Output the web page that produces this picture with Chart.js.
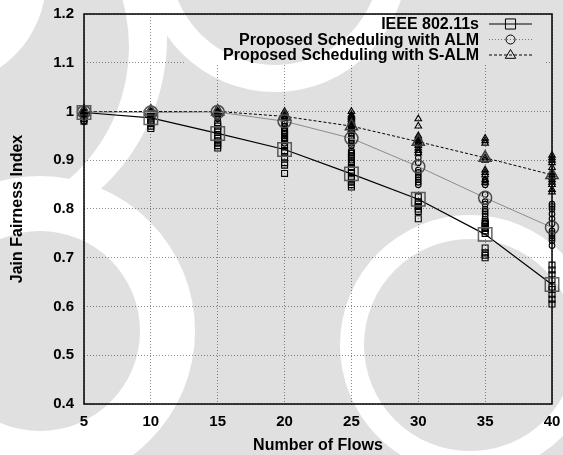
<!DOCTYPE html>
<html><head><meta charset="utf-8">
<script src="https://cdn.jsdelivr.net/npm/chart.js@4/dist/chart.umd.min.js"></script>
<style>html,body{margin:0;padding:0;background:#fff;}canvas{display:block}</style>
</head><body>
<canvas id="c" width="563" height="455"></canvas>
<script>
// ---------- data ----------
const flows = [5, 10, 15, 20, 25, 30, 35, 40];
const yTicks = [0.4, 0.5, 0.6, 0.7, 0.8, 0.9, 1.0, 1.1, 1.2];
const seriesLabels = ['IEEE 802.11s', 'Proposed Scheduling with ALM', 'Proposed Scheduling with S-ALM'];
const xTitle = 'Number of Flows';
const yTitle = 'Jain Fairness Index';

const ieeeMean = [0.998, 0.987, 0.955, 0.922, 0.872, 0.820, 0.748, 0.645];
const almMean  = [0.999, 0.998, 0.999, 0.980, 0.945, 0.887, 0.823, 0.762];
const salmMean = [1.000, 1.000, 1.000, 0.990, 0.970, 0.938, 0.905, 0.870];

const ieeeSamples = [
  [0.998, 0.995, 0.99, 0.985, 0.98],
  [0.99, 0.985, 0.98, 0.975, 0.97, 0.965],
  [0.975, 0.97, 0.965, 0.96, 0.95, 0.945, 0.94, 0.935, 0.93, 0.925],
  [0.96, 0.955, 0.945, 0.94, 0.93, 0.92, 0.915, 0.905, 0.895, 0.89, 0.873],
  [0.915, 0.905, 0.895, 0.885, 0.88, 0.875, 0.865, 0.86, 0.855, 0.85, 0.845],
  [0.825, 0.815, 0.81, 0.805, 0.8, 0.795, 0.78],
  [0.775, 0.77, 0.765, 0.76, 0.755, 0.75, 0.72, 0.71, 0.705, 0.7],
  [0.685, 0.675, 0.665, 0.655, 0.64, 0.635, 0.625, 0.615, 0.605]
];
const almSamples = [
  [1.0, 0.997, 0.993, 0.99, 0.985, 0.98],
  [1.0, 0.999, 0.997, 0.995, 0.992, 0.99],
  [1.0, 0.999, 0.997, 0.995, 0.992, 0.99, 0.985],
  [0.995, 0.992, 0.99, 0.985, 0.98, 0.975, 0.97, 0.965, 0.96, 0.955, 0.95, 0.945, 0.94, 0.935],
  [0.96, 0.955, 0.95, 0.945, 0.94, 0.935, 0.93, 0.92, 0.915, 0.91, 0.9, 0.895],
  [0.915, 0.905, 0.895, 0.88, 0.875, 0.87, 0.865, 0.86, 0.855, 0.85],
  [0.86, 0.855, 0.85, 0.83, 0.815, 0.81, 0.8, 0.795, 0.79, 0.785, 0.775, 0.77, 0.765, 0.76],
  [0.81, 0.805, 0.8, 0.79, 0.78, 0.77, 0.755, 0.75, 0.745, 0.74, 0.735, 0.725]
];
const salmSamples = [
  [1.0, 0.999, 0.997],
  [1.0, 0.999, 0.998],
  [1.0, 0.999, 0.998, 0.996],
  [1.0, 0.998, 0.996, 0.993, 0.99, 0.987, 0.985],
  [1.0, 0.993, 0.99, 0.987, 0.984, 0.98, 0.977, 0.973, 0.97, 0.967, 0.963, 0.96],
  [0.985, 0.97, 0.95, 0.947, 0.944, 0.94, 0.937, 0.934, 0.93, 0.925, 0.92, 0.915],
  [0.945, 0.94, 0.935, 0.905, 0.9, 0.88, 0.875, 0.87, 0.86, 0.855],
  [0.91, 0.905, 0.9, 0.895, 0.885, 0.875, 0.87, 0.865, 0.86, 0.855, 0.85, 0.84, 0.835]
];

// ---------- styles ----------
const FONT = '"Liberation Sans", Arial, Helvetica, sans-serif';
const styles = [
  {shape: 'rect',     line: '#000', width: 1.2, dash: [],     big: '#666', bigR: 9.5, smallR: 4.2, legR: 7},
  {shape: 'circle',   line: '#a0a0a0', width: 1.0, dash: [],  big: '#555', bigR: 6.5, smallR: 2.8, legR: 4.5, legDash: [1, 2]},
  {shape: 'triangle', line: '#000', width: 1.0, dash: [3, 2], big: '#444', bigR: 7,   smallR: 3.8, legR: 5.5}
];
const means = [ieeeMean, almMean, salmMean];
const samples = [ieeeSamples, almSamples, salmSamples];

const datasets = [];
means.forEach((m, s) => {
  const st = styles[s];
  datasets.push({
    label: seriesLabels[s],
    data: flows.map((f, i) => ({x: f, y: m[i]})),
    showLine: true, tension: 0,
    borderColor: st.line, borderWidth: st.width, borderDash: st.dash,
    pointStyle: st.shape, pointRadius: st.bigR, pointHoverRadius: st.bigR,
    pointBorderColor: st.big, pointBackgroundColor: 'rgba(0,0,0,0)', pointBorderWidth: 1.5,
    clip: false, order: 1
  });
});
samples.forEach((arr, s) => {
  const st = styles[s];
  datasets.push({
    label: seriesLabels[s] + ' samples',
    data: arr.flatMap((vals, i) => vals.map(v => ({x: flows[i], y: v}))),
    showLine: false,
    pointStyle: st.shape, pointRadius: st.smallR, pointHoverRadius: st.smallR,
    pointBorderColor: '#000', pointBackgroundColor: 'rgba(0,0,0,0)', pointBorderWidth: 1.1,
    clip: false, order: 2
  });
});

// ---------- plugins ----------
function shape(ctx, kind, x, y, r) {
  ctx.beginPath();
  if (kind === 'rect') { const h = r / 2; ctx.rect(x - h, y - h, 2 * h, 2 * h); }
  else if (kind === 'circle') { ctx.arc(x, y, r, 0, Math.PI * 2); }
  else { ctx.moveTo(x, y - r); ctx.lineTo(x + r * 0.95, y + r * 0.6); ctx.lineTo(x - r * 0.95, y + r * 0.6); ctx.closePath(); }
  ctx.stroke();
}

const background = {
  id: 'bg',
  beforeDraw(chart) {
    const ctx = chart.ctx;
    ctx.save(); ctx.fillStyle = '#fff'; ctx.fillRect(0, 0, chart.width, chart.height); ctx.restore();
  },
  afterDraw(chart) {
    const W = chart.width, H = chart.height;
    const wm = document.createElement('canvas'); wm.width = W; wm.height = H;
    const w = wm.getContext('2d');
    const G = '#e0e0e0', Wh = '#ffffff';
    w.fillStyle = G; w.fillRect(0, 0, W, H);
    const disc = (x, y, r, c) => { w.beginPath(); w.arc(x, y, r, 0, Math.PI * 2); w.fillStyle = c; w.fill(); };
    disc(-38, 38, 205, Wh); disc(-47, 47, 176, G); disc(-60, -20, 106, Wh);
    disc(275, -40, 132, Wh); disc(275, -40, 105, G);
    disc(40, 331, 155, Wh); disc(40, 331, 100, G);
    disc(470, 345, 130, Wh); disc(470, 345, 106, G);
    const ctx = chart.ctx;
    ctx.save(); ctx.globalCompositeOperation = 'multiply'; ctx.drawImage(wm, 0, 0); ctx.restore();
  }
};

const gpLegend = {
  id: 'gpLegend',
  beforeDatasetsDraw(chart) {
    const ctx = chart.ctx, a = chart.chartArea;
    ctx.save(); ctx.fillStyle = '#fff';
    ctx.fillRect(a.left + 100, a.top + 1, a.right - a.left - 106, 50);
    ctx.restore();
  },
  afterDatasetsDraw(chart) {
    const ctx = chart.ctx, a = chart.chartArea;
    ctx.save();
    ctx.strokeStyle = '#000'; ctx.lineWidth = 1.5;
    ctx.strokeRect(a.left, a.top, a.right - a.left, a.bottom - a.top);
    ctx.font = 'bold 16px ' + FONT; ctx.textAlign = 'right'; ctx.textBaseline = 'middle';
    ctx.fillStyle = '#000';
    const textRight = a.right - 73, x0 = a.right - 63, x1 = a.right - 20, xm = (x0 + x1) / 2;
    seriesLabels.forEach((lab, s) => {
      const y = a.top + 10 + s * 15.5;
      const st = styles[s];
      ctx.fillText(lab, textRight, y + 1);
      ctx.strokeStyle = st.line === '#a0a0a0' ? '#888' : st.line; ctx.lineWidth = 1;
      ctx.setLineDash(st.legDash || st.dash);
      ctx.beginPath(); ctx.moveTo(x0, y); ctx.lineTo(x1, y); ctx.stroke();
      ctx.setLineDash([]);
      ctx.strokeStyle = '#000'; ctx.lineWidth = 1;
      shape(ctx, st.shape, xm, y, st.legR * (st.shape === 'rect' ? 1.45 : 1));
      ctx.fillStyle = '#000';
    });
    ctx.restore();
  }
};

const noPad = s => { s.paddingLeft = 0; s.paddingRight = 0; s.paddingTop = 0; s.paddingBottom = 0; };

// ---------- chart ----------
new Chart(document.getElementById('c'), {
  type: 'scatter',
  data: {datasets},
  plugins: [background, gpLegend],
  options: {
    responsive: false, animation: false, devicePixelRatio: 1,
    layout: {padding: {top: 14, right: 10, left: 0, bottom: 0}},
    plugins: {legend: {display: false}, tooltip: {enabled: false}},
    scales: {
      x: {
        type: 'linear', min: flows[0], max: flows[flows.length - 1],
        afterBuildTicks: s => { s.ticks = flows.map(v => ({value: v})); },
        afterFit: s => { s.height = 51; noPad(s); },
        ticks: {color: '#000', font: {family: FONT, size: 15, weight: 'bold'}, padding: 9, maxRotation: 0},
        grid: {color: '#8c8c8c', lineWidth: 1, drawTicks: false},
        border: {display: false, dash: [1, 2]},
        title: {display: true, text: xTitle, color: '#000', font: {family: FONT, size: 16, weight: 'bold'}, padding: {top: 0, bottom: 0}}
      },
      y: {
        type: 'linear', min: yTicks[0], max: yTicks[yTicks.length - 1],
        afterBuildTicks: s => { s.ticks = yTicks.map(v => ({value: v})); },
        afterFit: s => { s.width = 84; noPad(s); },
        ticks: {color: '#000', font: {family: FONT, size: 15, weight: 'bold'}, padding: 10,
                callback: v => String(+(+v).toFixed(1))},
        grid: {color: '#8c8c8c', lineWidth: 1, drawTicks: false},
        border: {display: false, dash: [1, 2]},
        title: {display: true, text: yTitle, color: '#000', font: {family: FONT, size: 16, weight: 'bold'}, padding: {top: 8, bottom: 0}}
      }
    }
  }
});
</script>
</body></html>
